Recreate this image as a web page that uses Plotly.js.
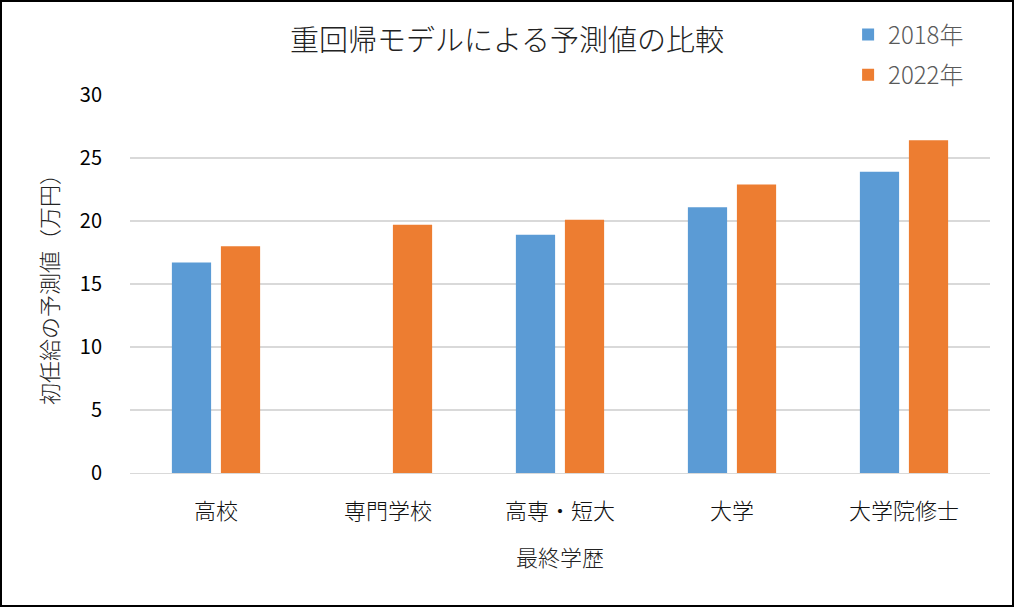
<!DOCTYPE html>
<html>
<head>
<meta charset="utf-8">
<script src="https://cdn.plot.ly/plotly-3.0.1.min.js"></script>
<style>
  body { margin: 0; background: #fff; }
  #chart { width: 1010px; height: 603px; border: 2px solid #000; }
</style>
</head>
<body>
<div id="chart"></div>
<script>
const categories = ["高校", "専門学校", "高専・短大", "大学", "大学院修士"];
const values2018 = [16.7, null, 18.9, 21.1, 23.9];
const values2022 = [18.0, 19.7, 20.1, 22.9, 26.4];
const seriesNames = ["2018年", "2022年"];
const yTicks = [0, 5, 10, 15, 20, 25, 30];

const FONT = "'Noto Sans CJK JP', 'Noto Sans', sans-serif";

const data = [
  {
    type: "bar",
    name: seriesNames[0],
    x: categories,
    y: values2018,
    marker: { color: "#5B9BD5" },
    legendgroup: "a",
    hoverinfo: "skip",
  },
  {
    type: "bar",
    name: seriesNames[1],
    x: categories,
    y: values2022,
    marker: { color: "#ED7D31" },
    legendgroup: "b",
    hoverinfo: "skip",
  },
];

const layout = {
  width: 1010,
  height: 603,
  margin: { l: 128, r: 22, t: 92, b: 132 },
  paper_bgcolor: "#fff",
  plot_bgcolor: "#fff",
  font: { family: FONT, color: "#000", size: 20, weight: 300 },
  title: {
    text: "重回帰モデルによる予測値の比較",
    font: { size: 29, color: "#222", weight: 300 },
    x: 0.5,
    xanchor: "center",
    y: 0.935,
    yanchor: "middle",
  },
  barmode: "group",
  bargap: 0.43,
  bargroupgap: 0.2,
  xaxis: {
    type: "category",
    showgrid: false,
    showline: true,
    linecolor: "#D9D9D9",
    linewidth: 1,
    ticks: "",
    ticklabelstandoff: 19,
    tickfont: { size: 22, color: "#111", weight: 300 },
    title: { text: "最終学歴", font: { size: 22, color: "#222", weight: 300 }, standoff: 26 },
    automargin: false,
  },
  yaxis: {
    range: [0, 30],
    tickvals: yTicks,
    showgrid: true,
    gridcolor: "#D9D9D9",
    gridwidth: 1.5,
    zeroline: false,
    showline: false,
    ticks: "",
    ticklabelstandoff: 27,
    tickfont: { size: 20, color: "#000", weight: 400 },
    title: { text: "初任給の予測値（万円）", font: { size: 22, color: "#222", weight: 300 }, standoff: 15 },
    automargin: false,
  },
  showlegend: true,
  legend: {
    x: 0.835,
    y: 1.215,
    xanchor: "left",
    yanchor: "top",
    orientation: "v",
    traceorder: "grouped",
    tracegroupgap: 6,
    font: { size: 24, color: "#595959", weight: 300 },
    bgcolor: "rgba(0,0,0,0)",
  },
};

Plotly.newPlot("chart", data, layout, { displayModeBar: false, staticPlot: true });
</script>
</body>
</html>
